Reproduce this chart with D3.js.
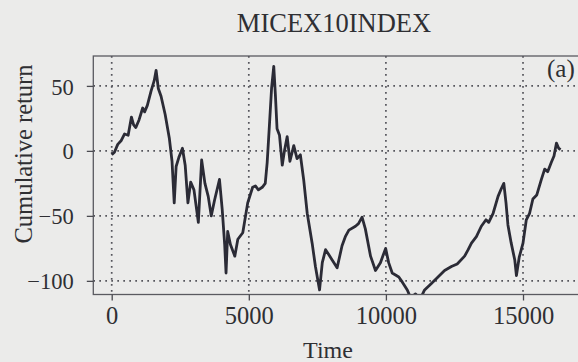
<!DOCTYPE html>
<html>
<head>
<meta charset="utf-8">
<script src="https://cdn.jsdelivr.net/npm/d3@7"></script>
<style>
  html, body { margin: 0; padding: 0; background: #ebebea; }
  svg { display: block; }
  text { font-family: "Liberation Serif", "DejaVu Serif", serif; fill: #2f2f33; }
</style>
</head>
<body>
<svg id="chart" width="578" height="362"></svg>
<script>
// ---- data ----
const chartTitle = "MICEX10INDEX";
const panelTag = "(a)";
const xLabel = "Time";
const yLabel = "Cumulative return";
const xTicks = [0, 5000, 10000, 15000];
const yTicks = [50, 0, -50, -100];

const timeIdx = [0, 100, 220, 350, 470, 600, 720, 800, 880, 1000, 1130, 1200, 1300, 1435, 1550, 1620, 1700, 1800, 1950, 2100,
  2200, 2280, 2350, 2450, 2580, 2680, 2780, 2880, 3000, 3160, 3280, 3400, 3520, 3630, 3750, 3930, 4030, 4120, 4170, 4230,
  4330, 4490, 4600, 4780, 4960, 5140, 5240, 5350, 5490, 5600, 5670, 5750, 5830, 5910, 5970, 6030, 6120, 6220, 6300, 6400,
  6500, 6640, 6760, 6880, 7000, 7130, 7310, 7430, 7580, 7680, 7800, 7920, 8040, 8220, 8400, 8520, 8650, 8890, 9000, 9130,
  9250, 9440, 9620, 9800, 9990, 10100, 10230, 10470, 10600, 10780, 10900, 11080, 11250, 11410, 11660, 11900, 12140, 12390, 12600, 12870,
  13000, 13120, 13300, 13480, 13650, 13750, 13910, 14090, 14210, 14300, 14380, 14450, 14570, 14700, 14760, 14860, 15000, 15120, 15240, 15360,
  15500, 15670, 15790, 15900, 16030, 16130, 16220, 16300, 16370];
const cumReturn = [-3, -1, 5, 8, 13, 12, 26, 20, 18, 24, 33, 30, 35, 46, 54, 62, 48, 42, 28, 10,
  -8, -40, -12, -5, 2, -11, -40, -24, -30, -55, -7, -25, -35, -50, -38, -22, -45, -72, -94, -62,
  -72, -81, -68, -63, -40, -28, -27, -30, -28, -25, -9, 19, 48, 65, 43, 17, 12, -11, 0, 11,
  -8, 4, -6, -3, -22, -48, -71, -89, -107, -86, -76, -80, -84, -90, -73, -66, -61, -58, -56, -51,
  -60, -81, -92, -86, -75, -86, -94, -97, -101, -107, -113, -110, -114, -107, -102, -97, -92, -89, -87, -81,
  -76, -71, -66, -58, -53, -55, -48, -35, -29, -25, -40, -57, -71, -84, -96, -82, -71, -53, -48, -37,
  -34, -22, -14, -16, -9, -4, 6, 2, 1];

const series = timeIdx.map((t, i) => ({ t, v: cumReturn[i] }));

// ---- layout ----
const svg = d3.select("#chart");
const plotL = 93.3, plotR = 590, plotT = 56, plotB = 294.5;

const x = d3.scaleLinear().domain([-671, 17443]).range([plotL, plotR]);
const y = d3.scaleLinear().domain([-110.5, 73]).range([plotB, plotT]);

svg.append("rect").attr("width", 578).attr("height", 362).attr("fill", "#ebebea");

svg.append("defs").append("clipPath").attr("id", "plotClip")
  .append("rect").attr("x", plotL).attr("y", plotT).attr("width", plotR - plotL).attr("height", plotB - plotT);

// grid (dotted)
const grid = svg.append("g").attr("stroke", "#55555c").attr("stroke-width", 1.7)
  .attr("stroke-dasharray", "1.7,4.3").attr("fill", "none");
grid.selectAll(".gx").data(xTicks).join("line").attr("class", "gx")
  .attr("x1", d => x(d)).attr("x2", d => x(d)).attr("y1", plotT).attr("y2", plotB);
grid.selectAll(".gy").data(yTicks).join("line").attr("class", "gy")
  .attr("x1", plotL).attr("x2", plotR).attr("y1", d => y(d)).attr("y2", d => y(d));

// series line
const line = d3.line().x(d => x(d.t)).y(d => y(d.v));
svg.append("path").datum(series)
  .attr("clip-path", "url(#plotClip)")
  .attr("d", line)
  .attr("fill", "none").attr("stroke", "#2b2b36").attr("stroke-width", 2.8)
  .attr("stroke-linejoin", "round");

// frame
svg.append("rect").attr("x", plotL).attr("y", plotT).attr("width", plotR - plotL).attr("height", plotB - plotT)
  .attr("fill", "none").attr("stroke", "#5a5a60").attr("stroke-width", 1.3);

// axes
const yAxis = d3.axisLeft(y).tickValues(yTicks).tickSize(6.5).tickPadding(13)
  .tickFormat(d => d < 0 ? "\u2212" + Math.abs(d) : String(d));
const gy = svg.append("g").attr("transform", `translate(${plotL},0)`).call(yAxis);
gy.select(".domain").remove();
gy.selectAll(".tick line").attr("stroke", "#4a4a50").attr("stroke-width", 1.3);
gy.selectAll(".tick text").attr("font-size", 22.5).attr("fill", "#2f2f33")
  .attr("font-family", "Liberation Serif, serif").attr("dy", "0.36em");

const xAxis = d3.axisBottom(x).tickValues(xTicks).tickSize(6).tickPadding(6)
  .tickFormat(d3.format("d"));
const gx = svg.append("g").attr("transform", `translate(0,${plotB})`).call(xAxis);
gx.select(".domain").remove();
gx.selectAll(".tick line").attr("stroke", "#4a4a50").attr("stroke-width", 1.3);
gx.selectAll(".tick text").attr("font-size", 24.5).attr("fill", "#2f2f33")
  .attr("font-family", "Liberation Serif, serif");

// texts
svg.append("text").attr("x", 334).attr("y", 31.5).attr("text-anchor", "middle")
  .attr("font-size", 26.5).text(chartTitle);
svg.append("text").attr("x", 547).attr("y", 77).attr("font-size", 25).text(panelTag);
svg.append("text").attr("x", 328).attr("y", 358).attr("text-anchor", "middle")
  .attr("font-size", 24).text(xLabel);
svg.append("text").attr("transform", "translate(32,154) rotate(-90)").attr("text-anchor", "middle")
  .attr("font-size", 24.5).text(yLabel);
</script>
</body>
</html>
